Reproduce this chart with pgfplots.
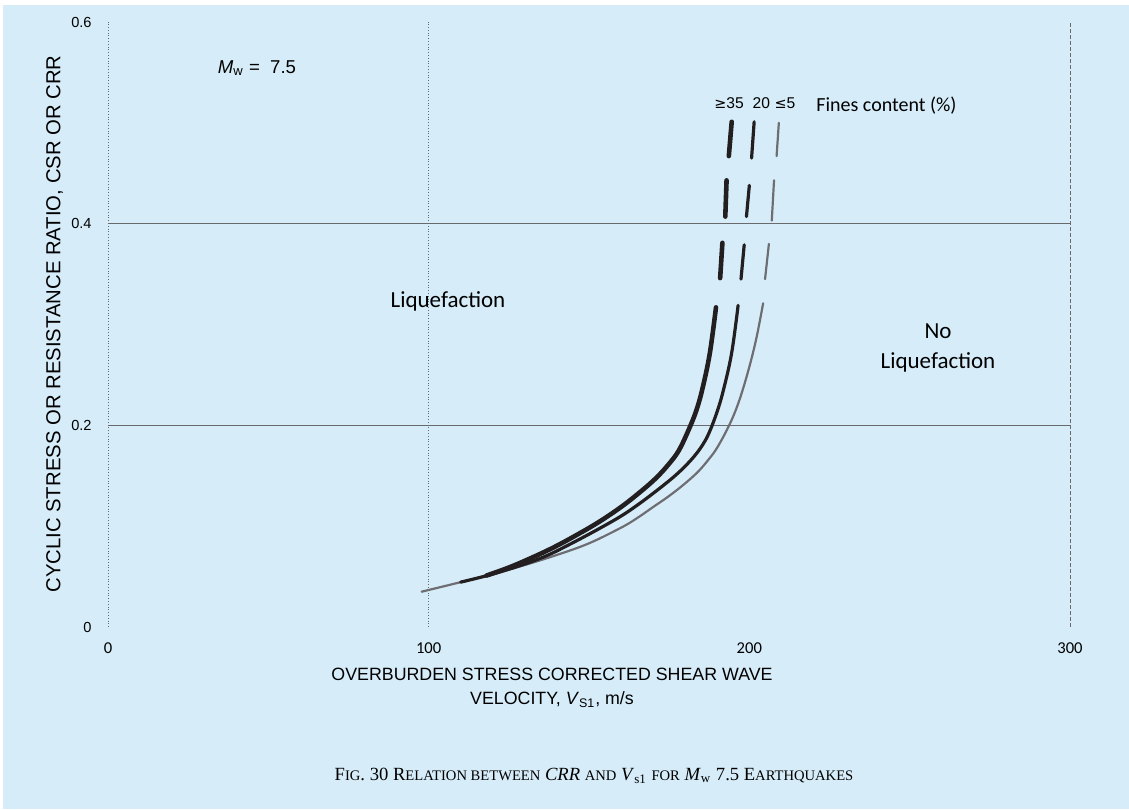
\documentclass[border=0pt]{standalone}
\usepackage{pgfplots}
\pgfplotsset{compat=1.18}
\usepackage{fontspec}
\setmainfont{Liberation Sans}
\newfontfamily\calibri{Carlito}
\newfontfamily\timesf{Liberation Serif}
\newfontfamily\symf{DejaVu Sans}
\definecolor{bgblue}{RGB}{214,237,249}
\definecolor{gridgray}{RGB}{105,106,110}
\definecolor{curveblack}{RGB}{35,31,32}
\definecolor{curvegray}{RGB}{110,110,114}
\newcommand{\smc}[1]{{\fontsize{7.3}{9}\selectfont #1}}
\begin{document}
\begin{tikzpicture}
\fill[white] (-54pt,-91pt) rectangle (510.5pt,313.5pt);
\fill[bgblue] (-52.5pt,-91pt) rectangle (510.5pt,311pt);
\begin{axis}[
  scale only axis, width=481pt, height=302.5pt,
  xmin=0, xmax=300, ymin=0, ymax=0.6,
  axis line style={draw=none},
  major tick length=0pt,
  xtick={0,100,200,300}, ytick={0,0.2,0.4,0.6},
  yticklabels={0,0.2,0.4,0.6},
  xticklabels={0,100,200,300},
  xticklabel style={anchor=center, yshift=-10.5pt, font=\calibri\fontsize{8.3}{10}\selectfont},
  yticklabel style={anchor=east, inner sep=0pt, xshift=-8pt, font=\fontsize{7.3}{8}\selectfont},
  clip=false,
]
% grid lines
\draw[gridgray, densely dotted, line width=0.4pt] (axis cs:0,0) -- (axis cs:0,0.6);
\draw[gridgray, densely dotted, line width=0.4pt] (axis cs:100,0) -- (axis cs:100,0.6);
\draw[gridgray, dash pattern=on 2pt off 1pt, line width=0.5pt] (axis cs:300,0) -- (axis cs:300,0.6);
\draw[gridgray, line width=0.7pt] (axis cs:0,0.2) -- (axis cs:300,0.2);
\draw[gridgray, line width=0.7pt] (axis cs:0,0.4) -- (axis cs:300,0.4);

% FC <= 5 (thin gray)
\addplot[curvegray, line width=1.1pt, smooth, tension=0.6, line cap=round] coordinates {
(97.8,0.035) (110,0.0445) (120,0.0525) (130,0.0615) (140,0.0715) (150,0.083)
(160,0.0985) (165,0.108) (170,0.119) (175,0.130) (180,0.1425) (184,0.154)
(187,0.165) (190,0.178) (194,0.202) (197,0.226) (200,0.258) (202.3,0.288) (204.3,0.321)};
\addplot[curvegray, line width=1.1pt, line cap=round] coordinates {(204.9,0.345) (206.1,0.380)};
\addplot[curvegray, line width=1.1pt, line cap=round] coordinates {(207.0,0.403) (207.7,0.443)};
\addplot[curvegray, line width=1.1pt, line cap=round] coordinates {(208.5,0.467) (209.2,0.500)};

% FC = 20 (medium)
\addplot[curveblack, line width=1.6pt, smooth, tension=0.6, line cap=round] coordinates {
(110,0.0445) (120,0.0525) (130,0.0625) (137,0.071) (144,0.082) (152,0.0955)
(160,0.110) (166,0.123) (171,0.135) (174,0.1425) (177,0.1505) (180,0.1595)
(183,0.170) (185.5,0.181) (187.5,0.193) (190,0.214) (192,0.236) (194.5,0.272) (196.5,0.319)};
\addplot[curveblack, line width=1.6pt, line cap=round] coordinates {(197.4,0.345) (198.4,0.379)};
\addplot[curveblack, line width=1.6pt, line cap=round] coordinates {(199.1,0.407) (200.0,0.438)};
\addplot[curveblack, line width=1.6pt, line cap=round] coordinates {(200.7,0.465) (201.5,0.501)};

% FC >= 35 (thick)
\addplot[curveblack, line width=2.3pt, smooth, tension=0.6, line cap=round] coordinates {
(118,0.051) (125,0.059) (132,0.0685) (139,0.079) (146,0.091) (153,0.104)
(160,0.119) (166,0.134) (171,0.148) (175,0.162) (178,0.175) (181,0.195)
(183.5,0.215) (185.5,0.238) (187.7,0.272) (189.6,0.317)};
\addplot[curveblack, line width=2.3pt, line cap=round] coordinates {(190.9,0.346) (191.6,0.381)};
\addplot[curveblack, line width=2.3pt, line cap=round] coordinates {(192.5,0.407) (192.9,0.443)};
\addplot[curveblack, line width=2.3pt, line cap=round] coordinates {(193.6,0.467) (194.5,0.501)};
\end{axis}

% texts
\node at (74.5pt,279.5pt) {\fontsize{9.3}{11}\selectfont \textit{M}\textsubscript{w} = \ 7.5};
\node at (310.5pt,262pt) {\fontsize{7.8}{9}\selectfont {\symf\fontsize{7.2}{9}\selectfont ≥}35};
\node at (326.65pt,262pt) {\fontsize{7.8}{9}\selectfont 20};
\node at (338.5pt,262pt) {\fontsize{7.8}{9}\selectfont {\symf\fontsize{7.2}{9}\selectfont ≤}5};
\node[anchor=west, inner sep=0pt] at (354pt,260.5pt) {\calibri\fontsize{10}{12}\selectfont Fines content (\%)};
\node at (170pt,163pt) {\calibri\fontsize{11.5}{14}\selectfont Liquefaction};
\node[align=center, font=\calibri\fontsize{11.5}{15}\selectfont] at (415pt,139.5pt) {No\\Liquefaction};
\node[rotate=90] at (-26.75pt,151.5pt) {\fontsize{10.15}{12}\selectfont CYCLIC STRESS OR RESISTANCE RATIO, CSR OR CRR};
\node[align=center, font=\fontsize{8.9}{12}\selectfont] at (222pt,-30.5pt) {OVERBURDEN STRESS CORRECTED SHEAR WAVE\\VELOCITY, \textit{V}\textsubscript{S1}, m/s};
\node at (243pt,-74.5pt) {\timesf\fontsize{9.3}{12}\selectfont F\smc{IG}. 30 R\smc{ELATION BETWEEN} \textit{CRR} \smc{AND} \textit{V}\textsubscript{s1} \smc{FOR} \textit{M}\textsubscript{w} 7.5 E\smc{ARTHQUAKES}};

\pgfresetboundingbox
\useasboundingbox (-54pt,-91pt) rectangle (510.5pt,313.5pt);
\end{tikzpicture}
\end{document}
